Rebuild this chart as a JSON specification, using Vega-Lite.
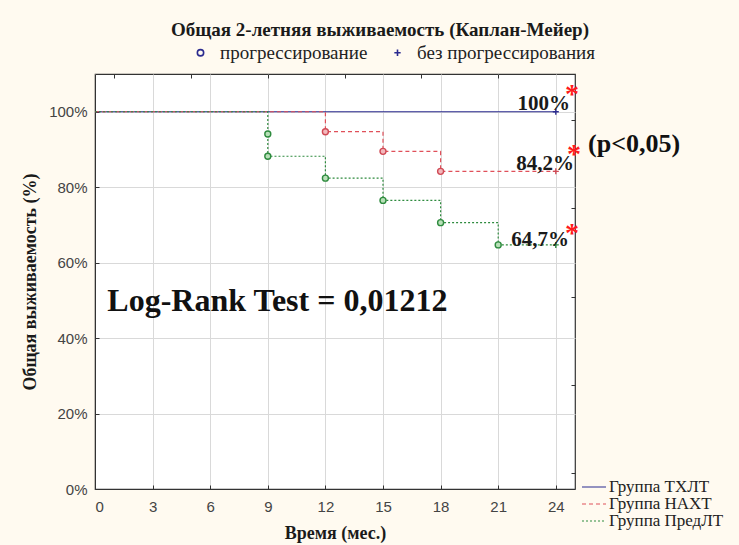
{
  "$schema": "https://vega.github.io/schema/vega-lite/v6.json",
  "autosize": {"type": "none"},
  "width": 480,
  "height": 415,
  "padding": {"left": 95, "top": 74, "right": 164, "bottom": 56},
  "background": "#fffaf0",
  "view": {"fill": "white", "stroke": "#333333", "strokeWidth": 1.2},
  "title": {
    "text": "Общая 2-летняя выживаемость (Каплан-Мейер)",
    "anchor": "middle",
    "dx": 45,
    "offset": 3,
    "font": "Liberation Serif",
    "fontSize": 19,
    "fontWeight": "bold",
    "color": "#1a1a1a"
  },
  "datasets": {
    "curves": [
      {"group": "Группа ТХЛТ", "t": 0, "s": 100},
      {"group": "Группа ТХЛТ", "t": 24, "s": 100},
      {"group": "Группа НАХТ", "t": 0, "s": 100},
      {"group": "Группа НАХТ", "t": 12, "s": 94.7},
      {"group": "Группа НАХТ", "t": 15, "s": 89.5},
      {"group": "Группа НАХТ", "t": 18, "s": 84.2},
      {"group": "Группа НАХТ", "t": 24, "s": 84.2},
      {"group": "Группа ПредЛТ", "t": 0, "s": 100},
      {"group": "Группа ПредЛТ", "t": 9, "s": 88.2},
      {"group": "Группа ПредЛТ", "t": 12, "s": 82.4},
      {"group": "Группа ПредЛТ", "t": 15, "s": 76.5},
      {"group": "Группа ПредЛТ", "t": 18, "s": 70.6},
      {"group": "Группа ПредЛТ", "t": 21, "s": 64.7},
      {"group": "Группа ПредЛТ", "t": 24, "s": 64.7}
    ],
    "marks": [
      {"group": "Группа ТХЛТ", "t": 24, "s": 100, "kind": "без прогрессирования"},
      {"group": "Группа НАХТ", "t": 12, "s": 94.7, "kind": "прогрессирование"},
      {"group": "Группа НАХТ", "t": 15, "s": 89.5, "kind": "прогрессирование"},
      {"group": "Группа НАХТ", "t": 18, "s": 84.2, "kind": "прогрессирование"},
      {"group": "Группа НАХТ", "t": 24, "s": 84.2, "kind": "без прогрессирования"},
      {"group": "Группа ПредЛТ", "t": 9, "s": 94.1, "kind": "прогрессирование"},
      {"group": "Группа ПредЛТ", "t": 9, "s": 88.2, "kind": "прогрессирование"},
      {"group": "Группа ПредЛТ", "t": 12, "s": 82.4, "kind": "прогрессирование"},
      {"group": "Группа ПредЛТ", "t": 15, "s": 76.5, "kind": "прогрессирование"},
      {"group": "Группа ПредЛТ", "t": 18, "s": 70.6, "kind": "прогрессирование"},
      {"group": "Группа ПредЛТ", "t": 21, "s": 64.7, "kind": "прогрессирование"},
      {"group": "Группа ПредЛТ", "t": 24, "s": 64.7, "kind": "без прогрессирования"}
    ],
    "notes": [
      {"type": "pct", "label": "100%", "t": 24.74, "s": 100.5},
      {"type": "pct", "label": "84,2%", "t": 24.95, "s": 84.6},
      {"type": "pct", "label": "64,7%", "t": 24.69, "s": 64.3},
      {"type": "star", "label": "*", "t": 24.84, "s": 102.2},
      {"type": "star", "label": "*", "t": 24.95, "s": 86.3},
      {"type": "star", "label": "*", "t": 24.84, "s": 65.6},
      {"type": "pval", "label": "(p<0,05)", "t": 25.68, "s": 89.2},
      {"type": "logrank", "label": "Log-Rank Test = 0,01212", "t": 9.5, "s": 47.2}
    ]
  },
  "resolve": {"axis": {"x": "independent", "y": "independent"}},
  "layer": [
    {
      "data": {"name": "curves"},
      "mark": {"type": "line", "interpolate": "step-after", "strokeWidth": 1.2},
      "encoding": {
        "x": {
          "field": "t", "type": "quantitative",
          "scale": {"domain": [0, 25], "nice": false, "zero": false},
          "axis": {
            "values": [0, 3, 6, 9, 12, 15, 18, 21, 24],
            "title": "Время (мес.)",
            "titleFont": "Liberation Serif", "titleFontSize": 18, "titleFontWeight": "bold", "titleColor": "#1a1a1a",
            "titlePadding": 10,
            "labelFont": "Liberation Sans", "labelFontSize": 15, "labelColor": "#444444",
            "labelPadding": 14,
            "tickSize": -4, "tickColor": "#333333",
            "domainColor": "#333333",
            "grid": true, "gridColor": "#d9d9d9"
          }
        },
        "y": {
          "field": "s", "type": "quantitative",
          "scale": {"domain": [0, 110], "nice": false, "zero": false},
          "axis": {
            "values": [0, 20, 40, 60, 80, 100],
            "labelExpr": "datum.value + '%'",
            "title": "Общая выживаемость (%)",
            "titleFont": "Liberation Serif", "titleFontSize": 18, "titleFontWeight": "bold", "titleColor": "#1a1a1a",
            "titlePadding": 9,
            "labelFont": "Liberation Sans", "labelFontSize": 15, "labelColor": "#444444",
            "labelPadding": 12,
            "tickSize": -4, "tickColor": "#333333",
            "domainColor": "#333333",
            "grid": true, "gridColor": "#d9d9d9"
          }
        },
        "color": {
          "field": "group", "type": "nominal",
          "scale": {"domain": ["Группа ТХЛТ", "Группа НАХТ", "Группа ПредЛТ"], "range": ["#2b2b8f", "#e0505a", "#2e8b3e"]},
          "legend": {
            "orient": "none", "legendX": 490, "legendY": 404, "title": null,
            "symbolType": "M-1.5,0L1.5,0", "symbolSize": 256, "symbolStrokeWidth": 1.2,
            "labelFont": "Liberation Serif", "labelFontSize": 17, "labelColor": "#222222",
            "labelOffset": 6, "rowPadding": 0, "labelLimit": 300
          }
        },
        "strokeDash": {
          "field": "group", "type": "nominal",
          "scale": {"domain": ["Группа ТХЛТ", "Группа НАХТ", "Группа ПредЛТ"], "range": [[1, 0], [4, 3], [2, 2]]},
          "legend": {
            "orient": "none", "legendX": 490, "legendY": 404, "title": null,
            "symbolType": "M-1.5,0L1.5,0", "symbolSize": 256, "symbolStrokeWidth": 1.2,
            "labelFont": "Liberation Serif", "labelFontSize": 17, "labelColor": "#222222",
            "labelOffset": 6, "rowPadding": 0, "labelLimit": 300
          }
        },
        "order": {"field": "t"}
      }
    },
    {
      "data": {"name": "marks"},
      "mark": {"type": "point", "size": 36, "strokeWidth": 1.4, "opacity": 1},
      "encoding": {
        "x": {"field": "t", "type": "quantitative", "scale": {"domain": [0, 25], "nice": false, "zero": false}, "axis": null},
        "y": {"field": "s", "type": "quantitative", "scale": {"domain": [0, 110], "nice": false, "zero": false}, "axis": null},
        "stroke": {
          "field": "group", "type": "nominal",
          "scale": {"domain": ["Группа ТХЛТ", "Группа НАХТ", "Группа ПредЛТ"], "range": ["#2b2b8f", "#d04a55", "#2e8b3e"]},
          "legend": null
        },
        "fill": {
          "field": "group", "type": "nominal",
          "scale": {"domain": ["Группа ТХЛТ", "Группа НАХТ", "Группа ПредЛТ"], "range": ["#c8c8ee", "#f2b8bc", "#b8e0b8"]},
          "legend": null
        },
        "shape": {
          "field": "kind", "type": "nominal",
          "scale": {"domain": ["прогрессирование", "без прогрессирования"], "range": ["circle", "M-1,0L1,0M0,-1L0,1"]},
          "legend": {
            "orient": "none", "direction": "horizontal", "legendX": 96, "legendY": -31, "title": null,
            "symbolStrokeColor": "#2b2b8f", "symbolFillColor": "transparent", "symbolStrokeWidth": 1.6, "symbolSize": 40,
            "labelFont": "Liberation Serif", "labelFontSize": 19, "labelColor": "#222222",
            "labelOffset": 10, "columnPadding": 20, "labelLimit": 400
          }
        }
      }
    },
    {
      "data": {"name": "notes"},
      "transform": [{"filter": "datum.type === 'pct'"}],
      "mark": {"type": "text", "align": "right", "baseline": "alphabetic", "font": "Liberation Serif", "fontSize": 21, "fontWeight": "bold", "color": "#1a1a1a"},
      "encoding": {
        "x": {"field": "t", "type": "quantitative", "scale": {"domain": [0, 25], "nice": false, "zero": false},
          "axis": {"orient": "top", "values": [1, 5, 9, 13, 17, 21], "labels": false, "domain": false, "grid": false, "title": null, "tickSize": -4, "tickColor": "#333333"}},
        "y": {"field": "s", "type": "quantitative", "scale": {"domain": [0, 110], "nice": false, "zero": false},
          "axis": {"orient": "right", "values": [4.2, 27.6, 51, 74.4, 97.8], "labels": false, "domain": false, "grid": false, "title": null, "tickSize": -4, "tickColor": "#333333"}},
        "text": {"field": "label"}
      }
    },
    {
      "data": {"name": "notes"},
      "transform": [{"filter": "datum.type === 'star'"}],
      "mark": {"type": "text", "align": "center", "baseline": "alphabetic", "font": "Liberation Serif", "fontSize": 28, "fontWeight": "bold", "color": "#ff1a1a"},
      "encoding": {
        "x": {"field": "t", "type": "quantitative", "scale": {"domain": [0, 25], "nice": false, "zero": false}, "axis": null},
        "y": {"field": "s", "type": "quantitative", "scale": {"domain": [0, 110], "nice": false, "zero": false}, "axis": null},
        "text": {"field": "label"}
      }
    },
    {
      "data": {"name": "notes"},
      "transform": [{"filter": "datum.type === 'pval'"}],
      "mark": {"type": "text", "align": "left", "baseline": "alphabetic", "font": "Liberation Serif", "fontSize": 26, "fontWeight": "bold", "color": "#111111"},
      "encoding": {
        "x": {"field": "t", "type": "quantitative", "scale": {"domain": [0, 25], "nice": false, "zero": false}, "axis": null},
        "y": {"field": "s", "type": "quantitative", "scale": {"domain": [0, 110], "nice": false, "zero": false}, "axis": null},
        "text": {"field": "label"}
      }
    },
    {
      "data": {"name": "notes"},
      "transform": [{"filter": "datum.type === 'logrank'"}],
      "mark": {"type": "text", "align": "center", "baseline": "alphabetic", "font": "Liberation Serif", "fontSize": 32, "fontWeight": "bold", "color": "#111111"},
      "encoding": {
        "x": {"field": "t", "type": "quantitative", "scale": {"domain": [0, 25], "nice": false, "zero": false}, "axis": null},
        "y": {"field": "s", "type": "quantitative", "scale": {"domain": [0, 110], "nice": false, "zero": false}, "axis": null},
        "text": {"field": "label"}
      }
    }
  ]
}
